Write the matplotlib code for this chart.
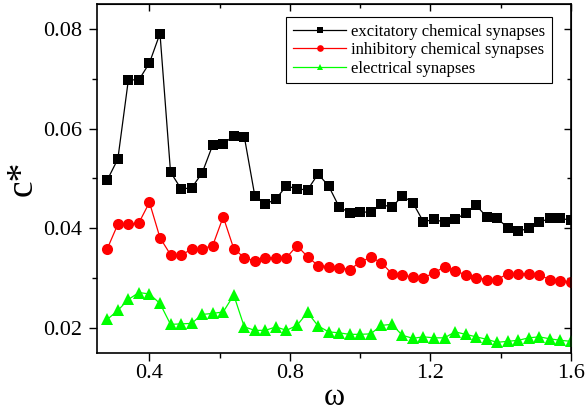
import numpy as np
import matplotlib
matplotlib.use("Agg")
import matplotlib.pyplot as plt
from matplotlib import font_manager
from matplotlib.ticker import MultipleLocator, FormatStrFormatter, NullFormatter

# --- data ---
omega = np.round(0.28 + 0.03 * np.arange(45), 2)

excitatory = [0.0497, 0.0539, 0.0698, 0.0698, 0.0732, 0.0791, 0.0513, 0.0479, 0.0481, 0.0511,
              0.0567, 0.0569, 0.0586, 0.0584, 0.0465, 0.0448, 0.0459, 0.0485, 0.0479, 0.0477,
              0.0509, 0.0485, 0.0443, 0.0431, 0.0433, 0.0432, 0.0448, 0.0442, 0.0465, 0.0451,
              0.0413, 0.0418, 0.0412, 0.0418, 0.0430, 0.0446, 0.0423, 0.0420, 0.0401, 0.0394,
              0.0400, 0.0412, 0.0420, 0.0420, 0.0416]

inhibitory = [0.0359, 0.0408, 0.0408, 0.0411, 0.0452, 0.0381, 0.0347, 0.0346, 0.0358, 0.0359,
              0.0365, 0.0423, 0.0359, 0.0341, 0.0334, 0.0341, 0.0341, 0.0341, 0.0365, 0.0343,
              0.0325, 0.0323, 0.0321, 0.0317, 0.0332, 0.0342, 0.0331, 0.0309, 0.0306, 0.0302,
              0.0301, 0.0310, 0.0323, 0.0314, 0.0307, 0.0301, 0.0297, 0.0297, 0.0309, 0.0309,
              0.0309, 0.0306, 0.0297, 0.0294, 0.0293]

electrical = [0.0217, 0.0235, 0.0257, 0.0271, 0.0268, 0.0249, 0.0207, 0.0208, 0.0209, 0.0227,
              0.0229, 0.0232, 0.0266, 0.0202, 0.0195, 0.0195, 0.0202, 0.0195, 0.0205, 0.0231,
              0.0204, 0.0192, 0.0190, 0.0187, 0.0187, 0.0188, 0.0205, 0.0207, 0.0185, 0.0179,
              0.0182, 0.0180, 0.0180, 0.0192, 0.0187, 0.0182, 0.0177, 0.0171, 0.0173, 0.0175,
              0.0180, 0.0182, 0.0178, 0.0175, 0.0173]

labels = ["excitatory chemical synapses", "inhibitory chemical synapses", "electrical synapses"]

# pick a Times-like serif that is actually installed
names = {f.name for f in font_manager.fontManager.ttflist}
serif = [n for n in ("Liberation Serif", "Times New Roman", "DejaVu Serif") if n in names]
plt.rcParams["font.family"] = "serif"
plt.rcParams["font.serif"] = serif + ["DejaVu Serif"]

fig = plt.figure(figsize=(5.85, 4.16), dpi=100)
ax = fig.add_axes([0.166, 0.152, 0.81, 0.838])

ax.plot(omega, excitatory, color="black", marker="s", markersize=7.5, lw=0.9,
        markeredgewidth=0, label=labels[0])
ax.plot(omega, inhibitory, color="red", marker="o", markersize=8, lw=0.9,
        markeredgewidth=0, label=labels[1])
ax.plot(omega, electrical, color="#00ff00", marker="^", markersize=8, lw=0.9,
        markeredgewidth=0, label=labels[2])

ax.set_xlim(0.251, 1.6)
ax.set_ylim(0.015, 0.085)

# bottom / left: ticks outward with labels
ax.xaxis.set_major_locator(MultipleLocator(0.4))
ax.xaxis.set_minor_locator(MultipleLocator(0.2))
ax.yaxis.set_major_locator(MultipleLocator(0.02))
ax.yaxis.set_minor_locator(MultipleLocator(0.01))
ax.xaxis.set_major_formatter(FormatStrFormatter("%.1f"))
ax.yaxis.set_major_formatter(FormatStrFormatter("%.2f"))
ax.tick_params(which="both", direction="out", labelsize=16, width=1)
ax.tick_params(which="major", length=6)
ax.tick_params(which="minor", length=3.5)
ax.tick_params(axis="x", pad=2)
ax.tick_params(axis="y", pad=5)

# top / right: ticks inward, no labels
top = ax.secondary_xaxis("top")
right = ax.secondary_yaxis("right")
for sec in (top, right):
    sec.tick_params(which="both", direction="in", width=1)
    sec.tick_params(which="major", length=5)
    sec.tick_params(which="minor", length=3)
top.xaxis.set_major_locator(MultipleLocator(0.4))
top.xaxis.set_minor_locator(MultipleLocator(0.2))
top.xaxis.set_major_formatter(NullFormatter())
right.yaxis.set_major_locator(MultipleLocator(0.02))
right.yaxis.set_minor_locator(MultipleLocator(0.01))
right.yaxis.set_major_formatter(NullFormatter())

for s in ax.spines.values():
    s.set_linewidth(1.2)

ax.set_xlabel("ω", fontsize=23, labelpad=0)
ax.set_ylabel("c*", fontsize=27, labelpad=2)

leg = ax.legend(loc="upper right", bbox_to_anchor=(0.9605, 0.9627), borderaxespad=0,
                fontsize=12, markerscale=0.6, fancybox=False, edgecolor="black",
                framealpha=1, handlelength=3.2, handletextpad=0.3, borderpad=0.4,
                labelspacing=0.15)
leg.get_frame().set_linewidth(0.8)

plt.savefig("out.png", dpi=100)
